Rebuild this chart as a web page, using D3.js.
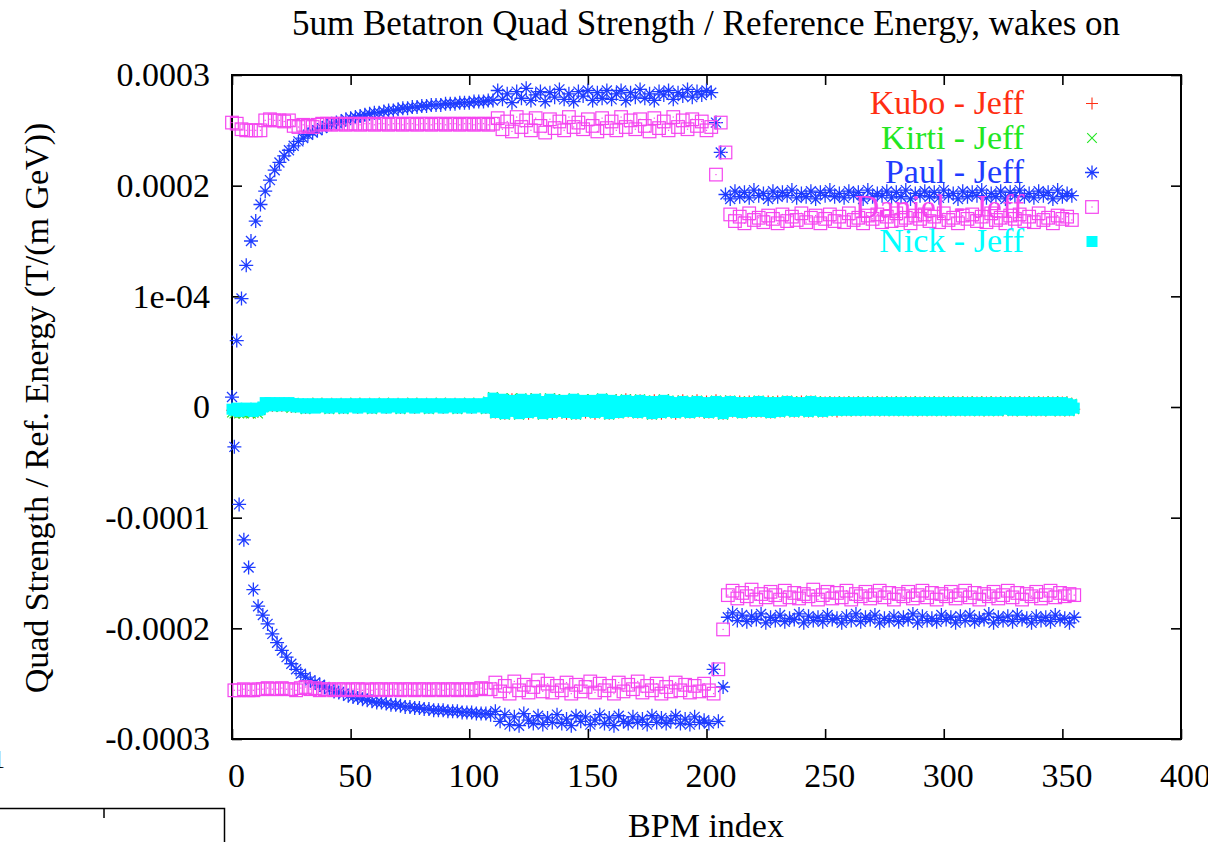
<!DOCTYPE html>
<html>
<head>
<meta charset="utf-8">
<script src="https://cdn.jsdelivr.net/npm/d3@7"></script>
<style>
  body { margin: 0; background: #fff; }
  svg { display: block; }
  text { font-family: "Liberation Serif", "Times New Roman", serif; }
</style>
</head>
<body>
<svg id="chart" width="1208" height="842"></svg>
<script>
const title = "5um Betatron Quad Strength / Reference Energy, wakes on";
const xLabel = "BPM index";
const yLabel = "Quad Strength / Ref. Energy (T/(m GeV))";
const xTicks = [0, 50, 100, 150, 200, 250, 300, 350, 400];
const yTicks = [-0.0003, -0.0002, -0.0001, 0, 0.0001, 0.0002, 0.0003];
const yTickLabels = ["-0.0003", "-0.0002", "-0.0001", "0", "1e-04", "0.0002", "0.0003"];

// all values below are in units of 1e-6 T/(m GeV), one per BPM index
const unit = 1e-6;

const kuboJeff = [
  -3,-4,-2,-5,-3,-4,-2,-4,-3,-5, -2,-4,-3,-1,3,2,3,1,2,2, 3,1,2,2,3,0,3,1,2,0, 2,-1,2,1,3,0,2,1,3,0,
  2,-1,3,0,2,1,3,-1,2,0, 3,1,2,-1,3,0,2,1,3,-1, 2,0,3,1,2,-1,3,0,2,1, 3,-1,2,0,3,1,2,-1,3,0,
  2,1,3,-1,2,0,3,1,2,-1, 3,0,2,1,3,-1,2,0,3,1, 2,-1,3,0,2,1,3,-1,3,0, 7,-5,7,-4,6,-6,6,-4,7,-3,
  6,-5,6,-4,5,-6,7,-3,6,-5, 6,-5,5,-4,6,-6,7,-2,6,-5, 5,-6,5,-3,6,-6,6,-3,5,-5, 6,-4,5,-6,5,-3,6,-5,6,-6,
  5,-4,6,-5,5,-3,7,-4,6,-4, 5,-5,6,-3,4,-5,4,-6,6,-3, 5,-6,5,-3,6,-4,4,-6,5,-4, 6,-4,4,-5,5,-3,6,-4,4,-5,
  5,-5,4,-3,6,-4,4,-6,5,-3, 5,-4,4,-3,5,-5,4,-3,5,-4, 4,-3,5,-4,4,-4,5,-5,4,-3, 5,-4,4,-3,5,-3,4,-4,4,-3,
  5,-3,4,-4,5,-3,4,-3,4,-4, 4,-3,4,-3,4,-4,4,-2,4,-3, 4,-3,4,-3,4,-2,4,-3,4,-2, 4,-3,4,-3,4,-3,4,-2,4,-3,
  4,-2,4,-3,4,-2,4,-3,4,-3, 4,-3,4,-2,4,-3,4,-2,4,-3, 4,-3,4,-3,4,-2,4,-3,4,-2, 4,-3,4,-2,4,-3,4,-3,4,-3,
  4,-2,4,-3,4,-3,4,-2,4,-3, 4,-3,4,-2,4,-3,4,-3,4,-2, 4,-3,4,-3,4,-2,4,-3,4,-3, 4,-3,4,-3,3,-2
];

const kirtiJeff = [
  -5,-6,-4,-6,-5,-6,-4,-5,-6,-5, -4,-6,-3,0,3,1,4,0,3,1, 3,0,4,1,3,-1,4,0,2,1, 3,-2,3,0,2,-1,4,1,2,-1,
  3,-2,2,1,3,0,2,-2,3,1, 2,0,4,-1,2,1,3,0,2,-2, 3,1,2,0,4,-1,2,1,3,0, 2,-2,3,1,2,0,4,-1,2,1,
  3,0,2,-2,3,1,2,0,4,-1, 2,1,3,0,2,-2,3,1,2,0, 4,-1,2,1,3,0,2,-2,5,1, 9,-6,7,-4,8,-7,6,-5,8,-3,
  6,-7,8,-4,5,-6,7,-3,8,-5, 6,-7,5,-4,8,-6,7,-3,6,-5, 7,-6,5,-4,8,-7,6,-3,7,-5, 6,-4,7,-6,5,-3,8,-5,6,-7,
  7,-4,6,-6,5,-3,7,-5,6,-4, 5,-6,7,-3,6,-5,4,-7,6,-4, 5,-6,7,-3,6,-5,4,-6,5,-4, 6,-5,4,-6,5,-3,6,-5,4,-4,
  5,-6,4,-3,6,-5,4,-7,5,-4, 6,-5,4,-3,5,-6,4,-4,5,-5, 4,-3,6,-5,4,-4,5,-6,4,-3, 5,-5,4,-4,6,-3,5,-5,4,-4,
  5,-3,4,-5,6,-4,5,-3,4,-5, 5,-4,4,-3,5,-4,4,-3,5,-4, 4,-3,5,-4,4,-3,5,-4,4,-2, 5,-4,4,-3,5,-4,4,-3,5,-4,
  4,-3,5,-4,4,-2,5,-4,4,-3, 5,-4,4,-3,5,-4,4,-2,5,-4, 4,-3,5,-4,4,-3,5,-4,4,-3, 5,-4,4,-2,5,-4,4,-3,5,-4,
  4,-3,5,-4,4,-3,5,-2,4,-4, 5,-3,4,-4,5,-3,4,-4,5,-2, 4,-4,5,-3,4,-4,5,-3,4,-4, 5,-3,4,-4,3,-2
];

// Paul and Daniel: even BPM indices (upper branch) and odd BPM indices (lower branch)
const paulUpper = [
  9,60,98,128,150,168,183,195,205,214, 221,227,232,236,240,243,246,248,250,252,
  254,256,257,258,260,261,262,263,264,265, 266,266,267,268,268,269,270,270,271,271,
  272,272,273,273,273,274,274,274,275,275, 275,276,276,276,277,277,
  286,278,283,275,285,279,288,277,282,285, 276,284,280,287,278,283,276,285,281,286,
  277,284,279,286,278,283,286,277,284,280, 287,279,283,277,285,282,286,278,284,281,
  287,280,285,282,286,284,
  257,230,
  192,188,195,190,194,189,196,191,193,188, 195,190,194,191,196,189,193,190,195,188,
  194,191,196,190,193,189,195,191,194,188, 196,190,193,191,195,189,194,190,196,188,
  193,191,195,190,194,189,196,191,193,188, 195,190,194,191,196,189,193,190,195,188,
  194,191,196,190,193,189,195,191,194,188, 196,190,193,191
];
const paulLower = [
  -36,-88,-120,-145,-165,-180,-188,-196,-205,-213, -220,-226,-232,-237,-241,-244,-247,-249,-251,-253,
  -255,-257,-258,-259,-261,-262,-263,-264,-265,-266, -267,-267,-268,-269,-269,-270,-271,-271,-272,-272,
  -273,-273,-274,-274,-274,-275,-275,-275,-276,-276, -276,-277,-277,-277,-278,
  -275,-284,-278,-287,-280,-288,-277,-283,-286,-279, -287,-281,-285,-278,-286,-282,-288,-279,-284,-280,
  -287,-283,-278,-286,-281,-288,-279,-284,-286,-280, -285,-282,-287,-279,-285,-281,-286,-283,-279,-286,
  -282,-287,-280,-285,-283,-286,
  -237,-284,-253,
  -190,-186,-193,-188,-194,-189,-192,-187,-195,-190, -193,-188,-194,-191,-192,-187,-195,-189,-193,-190,
  -194,-188,-192,-191,-195,-189,-193,-187,-194,-190, -192,-188,-195,-191,-193,-189,-194,-190,-192,-187,
  -195,-189,-193,-191,-194,-188,-192,-190,-195,-189, -193,-188,-194,-191,-192,-187,-195,-190,-193,-189,
  -194,-188,-192,-191,-195,-189,-193,-190,-194,-188, -192,-191,-195,-190
];

const danielUpper = [
  257,256,251,250,250,250,250,259,260,259, 259,258,259,254,253,255,254,253,255,256,
  256,255,256,256,255,256,256,255,256,256, 255,256,256,255,256,256,255,256,256,255,
  256,256,255,256,256,255,256,256,255,256, 256,255,256,256,255,256,
  261,251,258,249,262,253,259,250,261,254, 248,260,252,258,250,262,253,257,251,260,
  254,249,261,252,258,250,262,253,259,251, 260,254,249,261,252,258,250,262,253,259,
  251,260,254,258,250,253,
  210,257,230,
  174,168,172,166,175,169,171,167,173,170, 166,174,168,172,169,175,167,171,173,166,
  170,174,168,172,167,175,169,171,166,173, 170,174,167,172,168,175,169,171,166,173,
  170,174,168,172,167,175,169,171,166,173, 170,174,168,172,167,175,169,171,166,173,
  170,174,168,172,167,175,169,171,166,173, 170,172,169
];
const danielLower = [
  -256,-256,-255,-256,-256,-255,-255,-254,-255,-255, -254,-255,-255,-256,-254,-253,-255,-254,-256,-255,
  -255,-256,-255,-255,-256,-255,-255,-256,-255,-256, -255,-255,-256,-255,-255,-256,-255,-255,-256,-255,
  -255,-256,-255,-255,-256,-255,-255,-256,-255,-255, -256,-255,-254,-255,-255,
  -249,-257,-252,-259,-248,-256,-251,-258,-253,-247, -257,-250,-258,-252,-256,-249,-259,-251,-257,-253,
  -248,-258,-250,-256,-252,-259,-249,-257,-251,-255, -248,-258,-252,-256,-250,-259,-253,-257,-249,-256,
  -251,-258,-252,-257,-250,-256,
  -259,-237,-201,
  -170,-166,-173,-168,-171,-165,-174,-169,-172,-167, -170,-174,-166,-172,-168,-173,-169,-171,-165,-174,
  -170,-167,-173,-168,-172,-166,-174,-169,-171,-167, -173,-170,-166,-172,-168,-174,-169,-171,-167,-173,
  -170,-166,-172,-168,-174,-169,-171,-167,-173,-170, -166,-172,-168,-174,-169,-171,-167,-173,-170,-166,
  -172,-168,-174,-169,-171,-167,-173,-170,-166,-172, -168,-171,-169,-170
];

const nickJeff = [
  -2,-3,-1,-4,-2,-3,-1,-3,-2,-4, -1,-3,-2,0,4,2,4,1,3,2, 4,1,3,2,4,1,3,0,3,1, 2,-1,3,0,2,-1,3,1,2,0,
  3,-1,2,0,3,1,2,-1,3,0, 2,1,3,-1,2,0,3,1,2,-1, 3,0,2,1,3,-1,2,0,3,1, 2,-1,3,0,2,1,3,-1,2,0,
  3,1,2,-1,3,0,2,1,3,-1, 2,0,3,1,2,-1,3,0,2,1, 3,-1,2,0,3,1,2,-1,4,0, 8,-5,6,-3,7,-6,5,-4,6,-2,
  5,-6,7,-3,4,-5,6,-2,7,-4, 5,-6,4,-3,7,-5,6,-2,5,-4, 6,-5,4,-3,7,-6,5,-2,6,-4, 5,-3,6,-5,4,-2,7,-4,5,-6,
  6,-3,5,-5,4,-2,6,-4,5,-3, 4,-5,6,-2,5,-4,3,-6,5,-3, 4,-5,6,-2,5,-4,3,-5,4,-3, 5,-4,3,-5,4,-2,5,-4,3,-3,
  4,-5,3,-2,5,-4,3,-6,4,-3, 5,-4,3,-2,4,-5,3,-3,4,-4, 3,-2,5,-4,3,-3,4,-5,3,-2, 4,-4,3,-3,5,-2,4,-4,3,-3,
  4,-2,3,-4,5,-3,4,-2,3,-4, 4,-3,3,-2,4,-3,3,-2,4,-3, 3,-2,4,-3,3,-2,4,-3,3,-1, 4,-3,3,-2,4,-3,3,-2,4,-3,
  3,-2,4,-3,3,-1,4,-3,3,-2, 4,-3,3,-2,4,-3,3,-1,4,-3, 3,-2,4,-3,3,-2,4,-3,3,-2, 4,-3,3,-1,4,-3,3,-2,4,-3,
  3,-2,4,-3,3,-2,4,-1,3,-3, 4,-2,3,-3,4,-2,3,-3,4,-1, 3,-3,4,-2,3,-3,4,-2,3,-3, 4,-2,3,-3,2,-1
];

const seriesNames = ["Kubo - Jeff", "Kirti - Jeff", "Paul - Jeff", "Daniel - Jeff", "Nick - Jeff"];
const seriesColors = ["#ff2e12", "#22e622", "#1f3cff", "#f545f0", "#00ffff"];
const seriesMarkers = ["plus", "cross", "star", "box", "fillbox"];

function byIndex(vals) {
  return vals.map((v, i) => ({ x: i, y: v * unit }));
}
function byPlanes(upper, lower) {
  return upper.map((v, k) => ({ x: 2 * k, y: v * unit }))
    .concat(lower.map((v, k) => ({ x: 2 * k + 1, y: v * unit })));
}
const seriesData = [
  byIndex(kuboJeff),
  byIndex(kirtiJeff),
  byPlanes(paulUpper, paulLower),
  byPlanes(danielUpper, danielLower),
  byIndex(nickJeff)
];

const svg = d3.select("#chart");
const plotLeft = 232, plotRight = 1181, plotTop = 75, plotBottom = 739;

const xScale = d3.scaleLinear().domain([0, 400]).range([plotLeft, plotRight]);
const yScale = d3.scaleLinear().domain([-0.0003, 0.0003]).range([plotBottom, plotTop]);

// axes, ticks pointing inward on all four sides
const xAxis = d3.axisBottom(xScale).tickValues(xTicks).tickSizeInner(-10).tickSizeOuter(0).tickPadding(24);
const yAxis = d3.axisLeft(yScale).tickValues(yTicks).tickSizeInner(-10).tickSizeOuter(0).tickPadding(22)
  .tickFormat((d, i) => yTickLabels[i]);

const gx = svg.append("g").attr("transform", "translate(0," + plotBottom + ")").call(xAxis);
const gy = svg.append("g").attr("transform", "translate(" + plotLeft + ",0)").call(yAxis);
svg.append("g").attr("transform", "translate(0," + plotTop + ")")
  .call(d3.axisTop(xScale).tickValues(xTicks).tickSizeInner(-10).tickSizeOuter(0).tickFormat(""));
svg.append("g").attr("transform", "translate(" + plotRight + ",0)")
  .call(d3.axisRight(yScale).tickValues(yTicks).tickSizeInner(-10).tickSizeOuter(0).tickFormat(""));

svg.selectAll(".domain").remove();
svg.selectAll(".tick line").attr("stroke", "#000").attr("stroke-width", 1.6);
svg.selectAll(".tick text")
  .attr("font-family", "Liberation Serif, Times New Roman, serif")
  .attr("font-size", 34).attr("fill", "#000");
gx.selectAll(".tick text").attr("dx", 4);

svg.append("rect")
  .attr("x", plotLeft).attr("y", plotTop)
  .attr("width", plotRight - plotLeft).attr("height", plotBottom - plotTop)
  .attr("fill", "none").attr("stroke", "#000").attr("stroke-width", 2);

// titles
svg.append("text").attr("x", 706).attr("y", 35).attr("text-anchor", "middle")
  .attr("font-size", 35).text(title);
svg.append("text").attr("x", 706).attr("y", 837).attr("text-anchor", "middle")
  .attr("font-size", 34).text(xLabel);
svg.append("text").attr("transform", "translate(48,408) rotate(-90)").attr("text-anchor", "middle")
  .attr("font-size", 34).text(yLabel);

// stray bits of another figure at the lower left
svg.append("text").attr("x", -8).attr("y", 768).attr("font-size", 26).attr("fill", "#000").text("1");
svg.append("path").attr("d", "M0,808.5H224.5V842M104,808.5V818")
  .attr("fill", "none").attr("stroke", "#000").attr("stroke-width", 1.5);

function drawMarker(sel, kind, color) {
  if (kind === "plus") {
    sel.append("path").attr("d", "M-6,0H6M0,-6V6")
      .attr("stroke", color).attr("stroke-width", 1.1).attr("fill", "none");
  } else if (kind === "cross") {
    sel.append("path").attr("d", "M-4.8,-4.8L4.8,4.8M-4.8,4.8L4.8,-4.8")
      .attr("stroke", color).attr("stroke-width", 1.1).attr("fill", "none");
  } else if (kind === "star") {
    sel.append("path").attr("d", "M-7,0H7M0,-7V7M-5,-5L5,5M-5,5L5,-5")
      .attr("stroke", color).attr("stroke-width", 1.3).attr("fill", "none");
  } else if (kind === "box") {
    sel.append("rect").attr("x", -6.3).attr("y", -6.3).attr("width", 12.6).attr("height", 12.6)
      .attr("stroke", color).attr("stroke-width", 1.2).attr("fill", "none");
    sel.append("rect").attr("x", -0.6).attr("y", -0.6).attr("width", 1.2).attr("height", 1.2)
      .attr("fill", color);
  } else {
    sel.append("rect").attr("x", -5.5).attr("y", -5.5).attr("width", 11).attr("height", 11)
      .attr("fill", color);
  }
}

// gnuplot order: key entry, then points, series by series
seriesNames.forEach((name, s) => {
  const color = seriesColors[s];
  const baseY = 114 + s * 34.5;
  svg.append("text").attr("x", 1024).attr("y", baseY).attr("text-anchor", "end")
    .attr("font-size", 34).attr("fill", color).text(name);
  drawMarker(svg.append("g").attr("transform", "translate(1092," + (baseY - 10.5) + ")"),
    seriesMarkers[s], color);

  const pts = svg.append("g").attr("class", "series-" + s)
    .selectAll("g").data(seriesData[s]).enter().append("g")
    .attr("transform", d => "translate(" + xScale(d.x) + "," + yScale(d.y) + ")");
  drawMarker(pts, seriesMarkers[s], color);
});
</script>
</body>
</html>
